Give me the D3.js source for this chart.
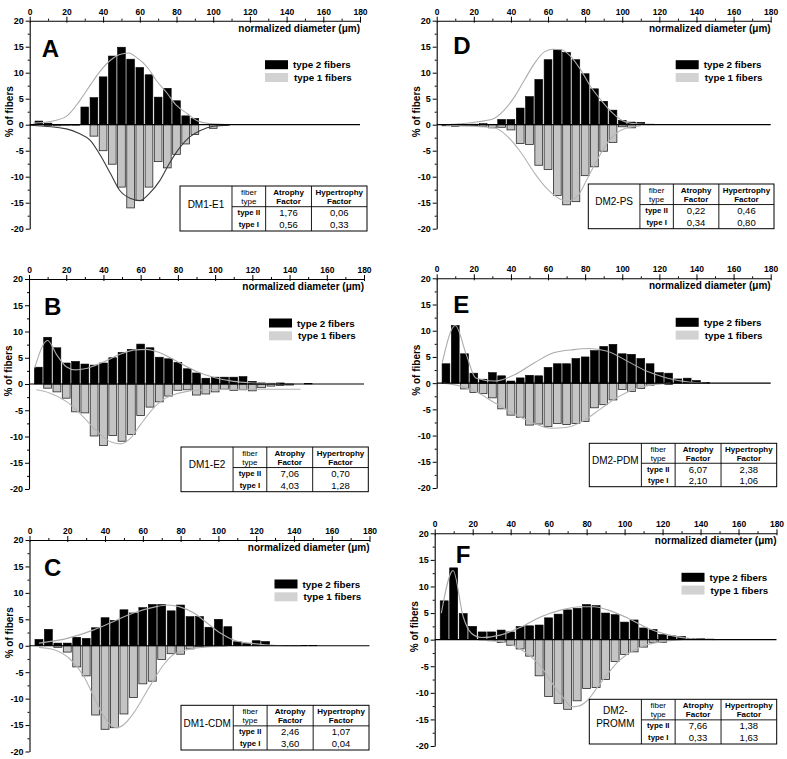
<!DOCTYPE html>
<html><head><meta charset="utf-8">
<script src="https://cdn.jsdelivr.net/npm/d3@7"></script>
<style>body{margin:0;background:#fff} svg{display:block;font-family:"Liberation Sans",Arial,Helvetica,sans-serif}</style>
</head><body><svg id="c" width="787" height="759"></svg>
<script>
// ---- data ----
const bins = [5,10,15,20,25,30,35,40,45,50,55,60,65,70,75,80,85,90,95,100,105,110,115,120,125,130,135,140,145,150];
const xTicks = [0,20,40,60,80,100,120,140,160,180];
const yTicks = [-20,-15,-10,-5,0,5,10,15,20];
const legendLabels = ["type 2 fibers","type 1 fibers"];
const tableHead = [["fiber","type"],["Atrophy","Factor"],["Hypertrophy","Factor"]];
const rowLabels = ["type II","type I"];

const A2 = [0.7,0.3,0,0,0,3.4,5.2,9.2,13.2,14.9,12.6,11.0,9.6,5.3,7.0,4.6,1.7,1.2,0,0,0,0,0,0,0,0,0,0,0,0];
const A1 = [0,-0.2,-0.2,-0.1,-0.1,0,-2.2,-5.0,-7.6,-12.0,-16.0,-14.6,-12.0,-7.1,-8.3,-5.7,-3.7,-1.9,0,-0.7,-0.1,0,0,0,0,0,0,0,0,0];
const B2 = [3.2,8.9,6.9,4.0,4.3,3.8,3.6,4.0,5.0,6.0,6.6,7.6,6.9,5.1,4.8,4.1,2.9,2.1,1.1,1.3,1.3,1.3,1.4,0.5,0.2,0.15,0.2,0,0,0.1];
const B1 = [0,-0.8,-1.5,-2.7,-5.3,-5.5,-9.9,-11.7,-9.8,-10.9,-9.6,-6.0,-4.4,-3.4,-2.3,-1.2,-1.1,-2.1,-1.9,-1.5,-1.0,-1.2,-1.1,-1.3,-0.7,-0.4,-0.3,-0.2,0,0];
const C2 = [1.2,3.1,0.5,0.5,1.6,1.4,3.4,5.3,4.8,6.8,6.2,7.2,7.8,7.8,6.6,7.7,5.5,5.5,3.5,5.0,3.6,0.75,0.4,0.95,0.8,0.05,0.05,0.05,0.05,0.05];
const C1 = [0,0,-0.3,-1.2,-4.0,-5.7,-13.1,-15.8,-15.5,-12.9,-9.8,-7.2,-6.7,-2.6,-1.5,-1.6,-0.6,-0.2,-0.1,-0.1,0,0,0,0,0,0,0,0,0,0];
const D2 = [0,0,0.05,0.1,0.2,0,1.0,1.0,3.2,5.4,8.7,12.5,14.4,13.9,12.5,9.8,6.9,4.5,2.8,0.8,0.5,0.45,0.1,0.05,0,0,0,0,0,0];
const D1 = [-0.2,-0.3,-0.2,-0.2,-0.3,-0.6,-0.5,-1.0,-3.6,-3.8,-7.8,-8.6,-13.6,-15.4,-14.8,-9.8,-8.1,-5.1,-3.4,-0.4,-0.6,0,0,0,0,0,0,0,0,0];
const E2 = [3.7,11.0,5.6,1.9,0.75,2.0,1.4,0.4,1.0,1.5,1.4,3.0,3.7,3.7,4.7,5.0,6.2,7.0,7.4,5.6,5.5,4.7,3.7,2.0,1.9,0.8,0.95,0.5,0.1,0];
const E1 = [0,0,-1.1,-1.8,-2.0,-2.8,-4.9,-6.1,-6.5,-8.0,-7.8,-8.3,-7.7,-7.9,-7.7,-7.3,-4.7,-4.1,-3.2,-1.2,-1.6,-1.0,-0.4,0,-0.25,0,0,0,0,0];
const F2 = [7.3,13.5,4.9,2.5,1.45,1.45,1.8,1.45,2.45,2.6,2.75,4.1,4.8,5.6,5.9,6.6,6.4,5.0,4.7,3.3,3.7,2.2,1.9,0.95,0.7,0.6,0.25,0.2,0.1,0];
const F1 = [0,0,0,0,0,-0.2,-0.55,-1.05,-1.75,-3.1,-6.8,-10.7,-12.0,-13.1,-11.5,-9.2,-9.0,-7.5,-4.1,-2.8,-2.3,-1.4,-0.5,-0.5,0,0,0,0,0,0];

// fitted curves, points [diameter, %]
const fitA2 = [[2,0.3],[11,0.6],[20,1.6],[27,4.5],[33,7.6],[38,10.1],[44,12.4],[49,13.5],[54,13.8],[58,13.0],[64,11.1],[69,8.5],[75,6.0],[80,3.7],[86,2.1],[91,0.8],[98,0.2],[108,0]];
const fitA1 = [[0,-0.1],[20,-0.8],[27,-1.7],[33,-3],[38,-5.6],[44,-9.4],[49,-12.6],[55,-14.2],[60,-14.6],[65,-13.3],[71,-10.7],[76,-7.5],[82,-4.3],[87,-2.4],[93,-1.1],[100,-0.3],[109,-0.1]];
const fitB2 = [[3,3],[10,8.3],[15,5.5],[20,3.3],[25,2.7],[30,2.9],[40,4.2],[50,5.8],[57,6.5],[63,6.6],[70,6],[80,4.2],[90,2.4],[100,1.2],[110,0.5],[120,0.2],[135,0]];
const fitB1 = [[4,-1.1],[11,-1.7],[20,-3.3],[29,-6.2],[36.6,-9],[43.8,-11],[49,-11.4],[54.6,-10.3],[60,-7.7],[65.4,-5.2],[70.8,-3.3],[78,-2],[85,-1.4],[96,-1.1],[110,-1.0],[146,-1.0]];
const fitC2 = [[5,0.5],[20,1.4],[34,3],[44.6,4.6],[55,6.2],[66,7.3],[73,7.7],[80,7.3],[87,6.2],[94,4.3],[101,2.4],[108,1.1],[118.7,0.4],[131,0.06],[144,0]];
const fitC1 = [[5,-0.3],[13,-0.75],[21.7,-2.6],[28.8,-5.8],[34,-9.6],[39.3,-13.3],[43.7,-15.2],[46.4,-15.5],[50,-14.9],[55.2,-12.7],[60.5,-9.6],[65.8,-6.4],[71,-3.6],[76,-1.7],[83.4,-0.75],[94,-0.25],[104.6,-0.1]];
const fitD2 = [[5,0],[29.5,1],[36.6,2.9],[42,5.4],[47.3,8.6],[52.7,11.8],[58,14],[62.5,14.5],[67,14.4],[72.3,13.1],[77.7,10.5],[83,7.3],[88.4,4.8],[93.75,2.6],[99,1],[106,0.2],[115,0]];
const fitD1 = [[5,-0.1],[31,-0.6],[38,-2.2],[45.5,-5.4],[52.7,-9.3],[60,-12.5],[67,-14.4],[70.5,-14.7],[76,-13.7],[81,-10.5],[86.6,-6.7],[92,-3.5],[97,-1.6],[102.7,-0.6],[110,-0.2]];
const fitE2 = [[3,3.9],[10,11],[16,5.4],[21,1],[31,0.4],[42,1.6],[52.7,3.9],[63,5.8],[74,6.4],[82,6.6],[92,6.1],[102.7,4.2],[113,2.3],[124,1.0],[135,0.25],[145.5,0]];
const fitE1 = [[3.6,0],[13,-0.6],[22,-1.8],[31,-3.7],[42,-5.9],[52.7,-7.7],[61.6,-8.6],[70.5,-8.4],[79.5,-7.1],[88,-5],[97,-2.8],[106,-1.2],[115,-0.4],[126,0]];
const fitF2 = [[3.5,5],[9.7,13],[15,4.3],[19.3,1.2],[24.6,0.4],[35,0.9],[45.7,2.4],[56,4.3],[66.8,5.6],[77,6.2],[84,6.2],[91,5.6],[102,4],[112.5,2.1],[123,0.9],[133.6,0.25],[147.6,0]];
const fitF1 = [[23,-0.05],[35,-0.4],[45.7,-1.9],[56,-5.1],[63,-8.8],[68.5,-11.3],[72,-12.6],[75.6,-12.5],[80.8,-11.3],[86,-8.8],[91.4,-6.3],[96.7,-4.1],[102,-2.6],[109,-1.3],[119.5,-0.4],[130,0]];

const tblA = ["DM1-E1","1,76","0,06","0,56","0,33"];
const tblB = ["DM1-E2","7,06","0,70","4,03","1,28"];
const tblC = ["DM1-CDM","2,46","1,07","3,60","0,04"];
const tblD = ["DM2-PS","0,22","0,46","0,34","0,80"];
const tblE = ["DM2-PDM","6,07","2,38","2,10","1,06"];
const tblF = ["DM2-|PROMM","7,66","1,38","0,33","1,63"];

// ---- layout (pixels) ----
const panels = [
  {id:"A", box:[29.7,360,20.7,228.7], t2:A2, t1:A1, f2:fitA2, f1:fitA1, c1:"#3a3a3a", tbl:tblA, tbox:[180,186,367,231], let:[42.7,56.7]},
  {id:"B", box:[29,364,279,489], t2:B2, t1:B1, f2:fitB2, f1:fitB1, c1:"#b4b4b4", tbl:tblB, tbox:[181,447,368.3,491.7], let:[45,315]},
  {id:"C", box:[29.5,369.5,540,751.5], t2:C2, t1:C1, f2:fitC2, f1:fitC1, c1:"#b4b4b4", tbl:tblC, tbox:[181,705.3,369,750], let:[45,575.7]},
  {id:"D", box:[436.7,770.7,20.7,228.7], t2:D2, t1:D1, f2:fitD2, f1:fitD1, c1:"#b4b4b4", tbl:tblD, tbox:[588.3,184,774,228.7], let:[454.3,54]},
  {id:"E", box:[436.7,770.7,278.3,488], t2:E2, t1:E1, f2:fitE2, f1:fitE1, c1:"#b4b4b4", tbl:tblE, tbox:[589.3,443.3,776.7,486.7], let:[454.3,313.3]},
  {id:"F", box:[434.7,776.5,533.3,746], t2:F2, t1:F1, f2:fitF2, f1:fitF1, c1:"#b4b4b4", tbl:tblF, tbox:[589.3,699.3,776.7,744], let:[456.7,563.3]}
];

const svg = d3.select("#c");

panels.forEach(p => {
  const [x0,x1,yT,yB] = p.box;
  const x = d3.scaleLinear().domain([0,180]).range([x0,x1]);
  const y = d3.scaleLinear().domain([-20,20]).range([yB,yT]);
  const g = svg.append("g");
  const bw = x(4.2) - x(0);

  g.selectAll(".b1").data(bins.map((b,i)=>({b, v:p.t1[i]})).filter(d=>d.v!==0))
    .enter().append("rect")
    .attr("x", d=>x(d.b)-bw/2).attr("width", bw)
    .attr("y", y(0)).attr("height", d=>y(d.v)-y(0))
    .attr("fill","#c4c4c4").attr("stroke","#2a2a2a").attr("stroke-width",0.8);
  g.selectAll(".b2").data(bins.map((b,i)=>({b, v:p.t2[i]})).filter(d=>d.v!==0))
    .enter().append("rect")
    .attr("x", d=>x(d.b)-bw/2).attr("width", bw)
    .attr("y", d=>y(d.v)).attr("height", d=>y(0)-y(d.v))
    .attr("fill","#000").attr("stroke","#000").attr("stroke-width",0.6);

  const line = d3.line().x(d=>x(d[0])).y(d=>y(d[1])).curve(d3.curveMonotoneX);
  g.append("path").attr("d", line(p.f2)).attr("fill","none").attr("stroke","#ababab").attr("stroke-width",1.1);
  g.append("path").attr("d", line(p.f1)).attr("fill","none").attr("stroke",p.c1).attr("stroke-width",1.1);

  g.append("line").attr("x1",x0).attr("x2",x1).attr("y1",y(0)).attr("y2",y(0)).attr("stroke","#000").attr("stroke-width",1.2);

  const ax = g.append("g").attr("transform",`translate(0,${yT})`)
    .call(d3.axisTop(x).tickValues(xTicks).tickSize(4).tickSizeOuter(0).tickPadding(2).tickFormat(d=>String(d)));
  ax.selectAll(".tick line").attr("y1",2);
  ax.selectAll("text").attr("font-size",8.5).attr("font-weight","bold").attr("fill","#000");
  g.append("g").attr("transform",`translate(0,${yT})`)
    .call(d3.axisTop(x).tickValues([10,30,50,70,90,110,130,150,170]).tickSize(2).tickFormat(""))
    .select(".domain").remove();

  const ay = g.append("g").attr("transform",`translate(${x0},0)`)
    .call(d3.axisLeft(y).tickValues(yTicks).tickSize(4).tickSizeOuter(0).tickPadding(2).tickFormat(d=>String(d)));
  ay.selectAll("text").attr("font-size",9).attr("font-weight","bold").attr("fill","#000");
  g.append("g").attr("transform",`translate(${x0},0)`)
    .call(d3.axisLeft(y).tickValues([-17.5,-12.5,-7.5,-2.5,2.5,7.5,12.5,17.5]).tickSize(2).tickFormat(""))
    .select(".domain").remove();
  g.selectAll(".domain").attr("stroke-width",1.1);

  g.append("text").attr("x",x1).attr("y",yT+11).attr("text-anchor","end")
    .attr("font-size",10).attr("font-weight","bold").text("normalized diameter (\u03bcm)");
  g.append("text").attr("transform",`translate(${x0-17},${y(0)-13}) rotate(-90)`).attr("text-anchor","middle")
    .attr("font-size",10).attr("font-weight","bold").text("% of fibers");

  g.append("text").attr("x",p.let[0]-1).attr("y",p.let[1]).attr("font-size",24).attr("font-weight","bold").text(p.id);

  const lx = x1-95, ly = yT+39.5;
  [["#000",0],["#d2d2d2",1]].forEach(([c,i])=>{
    g.append("rect").attr("x",lx).attr("y",ly+i*12.8).attr("width",23).attr("height",9).attr("fill",c);
    g.append("text").attr("x",lx+28+i).attr("y",ly+i*12.8+8).attr("font-size",9.8).attr("font-weight","bold").text(legendLabels[i]);
  });

  const [tl,tt,tr,tb] = p.tbox;
  const w = tr-tl, h = tb-tt;
  const cx = [tl, tl+0.278*w, tl+0.458*w, tl+0.703*w, tr];
  const hb = tt+0.46*h;
  const tg = g.append("g");
  tg.append("rect").attr("x",tl).attr("y",tt).attr("width",w).attr("height",h).attr("fill","#fff").attr("stroke","#000").attr("stroke-width",1);
  [1,2,3].forEach(i=>tg.append("line").attr("x1",cx[i]).attr("x2",cx[i]).attr("y1",tt).attr("y2",tb).attr("stroke","#000").attr("stroke-width",0.9));
  tg.append("line").attr("x1",cx[1]).attr("x2",tr).attr("y1",hb).attr("y2",hb).attr("stroke","#000").attr("stroke-width",0.9);
  const nameLines = p.tbl[0].split("|");
  nameLines.forEach((s,k)=>{
    tg.append("text").attr("x",(cx[0]+cx[1])/2).attr("y",tt+0.4*h+(k-(nameLines.length-1)/2)*12.5)
      .attr("text-anchor","middle").attr("dominant-baseline","central").attr("font-size",10).text(s);
  });
  tableHead.forEach((hd,j)=>{
    hd.forEach((s,k)=>{
      tg.append("text").attr("x",(cx[j+1]+cx[j+2])/2).attr("y",tt+(hb-tt)*(k===0?0.3:0.74))
        .attr("text-anchor","middle").attr("dominant-baseline","central")
        .attr("font-size",8).attr("font-weight",j===0?"normal":"bold").text(s);
    });
  });
  const rh = (tb-hb)/2;
  rowLabels.forEach((r,k)=>{
    const ry = hb+rh*(k+0.5);
    tg.append("text").attr("x",(cx[1]+cx[2])/2).attr("y",ry).attr("text-anchor","middle").attr("dominant-baseline","central")
      .attr("font-size",7.8).attr("font-weight","bold").text(r);
    tg.append("text").attr("x",(cx[2]+cx[3])/2).attr("y",ry).attr("text-anchor","middle").attr("dominant-baseline","central")
      .attr("font-size",9.5).text(p.tbl[1+k*2]);
    tg.append("text").attr("x",(cx[3]+cx[4])/2).attr("y",ry).attr("text-anchor","middle").attr("dominant-baseline","central")
      .attr("font-size",9.5).text(p.tbl[2+k*2]);
  });
});
</script></body></html>
